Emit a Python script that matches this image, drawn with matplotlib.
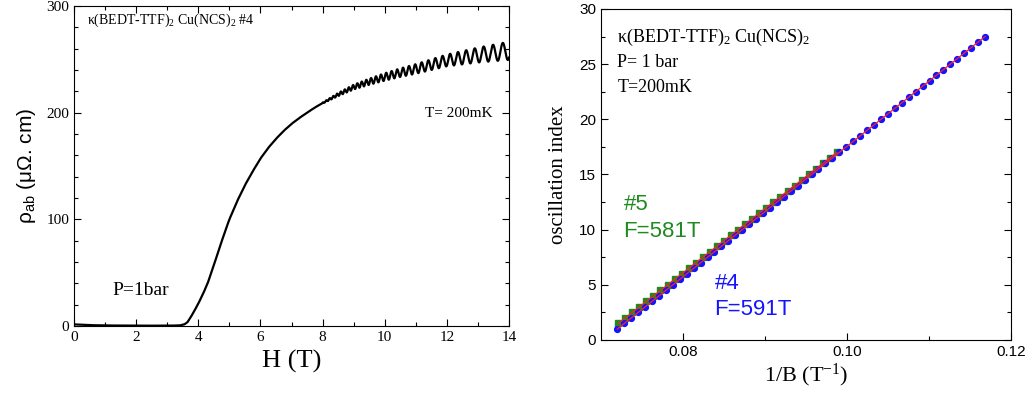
import numpy as np
import matplotlib
matplotlib.use("Agg")
import matplotlib.pyplot as plt
from matplotlib.ticker import MultipleLocator, FixedLocator

plt.rcParams['mathtext.fontset'] = 'custom'
plt.rcParams['mathtext.rm'] = 'Liberation Serif'
plt.rcParams['mathtext.it'] = 'Liberation Serif:italic'
plt.rcParams['mathtext.sf'] = 'Liberation Sans'

SERIF = 'Liberation Serif'
SANS = 'Liberation Sans'

# ---------------- Left panel data ----------------
bg_H = [0, 0.5, 1, 2, 3, 3.4, 3.55, 3.65, 3.75, 3.85, 4.0, 4.15, 4.3, 4.5, 4.7,
        4.9, 5.0, 5.25, 5.5, 5.75, 6.0, 6.25, 6.5, 6.75, 7.0, 7.25, 7.5, 7.75,
        8.0, 8.5, 9.0, 9.5, 10, 10.5, 11, 11.5, 12, 12.5, 13, 13.5, 14]
bg_rho = [1.5, 0.8, 0.5, 0.3, 0.3, 0.5, 1.5, 3.5, 8, 13, 21, 30, 40, 57, 75,
          92, 100, 117, 132, 145, 157, 167, 175.5, 183, 189.5, 195, 200, 204.8,
          209, 217, 224, 229, 233.5, 237.5, 241, 245, 249, 251.5, 254, 256, 258]

# peak-to-peak oscillation amplitude
amp_H = [7.8, 8.0, 8.5, 9.0, 10.0, 11.0, 12.0, 13.0, 14.0]
amp_pp = [0, 1.0, 3.0, 4.5, 7.0, 9.0, 11.0, 14.0, 17.0]

# field positions of oscillation extrema (first is a maximum, then alternating)
ext_H = [8.005, 8.059, 8.115, 8.171, 8.228, 8.285, 8.344, 8.403, 8.463, 8.524,
         8.586, 8.649, 8.713, 8.778, 8.843, 8.910, 8.978, 9.046, 9.116, 9.187,
         9.259, 9.332, 9.406, 9.482, 9.558, 9.636, 9.716, 9.796, 9.878, 9.961,
         10.046, 10.132, 10.220, 10.309, 10.400, 10.492, 10.586, 10.681, 10.779,
         10.878, 10.979, 11.082, 11.187, 11.294, 11.403, 11.514, 11.627, 11.742,
         11.860, 11.981, 12.103, 12.228, 12.356, 12.487, 12.620, 12.756, 12.896,
         13.038, 13.183, 13.332, 13.484, 13.639, 13.799, 13.962, 14.129]

# ---------------- Right panel data ----------------
n4 = [1, 1.5, 2, 2.5, 3, 3.5, 4, 4.5, 5, 5.5, 6, 6.5, 7, 7.5, 8, 8.5, 9, 9.5,
      10, 10.5, 11, 11.5, 12, 12.5, 13, 13.5, 14, 14.5, 15, 15.5, 16, 16.5, 17,
      17.5, 18, 18.5, 19, 19.5, 20, 20.5, 21, 21.5, 22, 22.5, 23, 23.5, 24,
      24.5, 25, 25.5, 26, 26.5, 27, 27.5]
invB4 = [0.07200, 0.07285, 0.07369, 0.07454, 0.07538, 0.07623, 0.07708, 0.07792,
         0.07877, 0.07961, 0.08046, 0.08131, 0.08215, 0.08300, 0.08384, 0.08469,
         0.08554, 0.08638, 0.08723, 0.08807, 0.08892, 0.08977, 0.09061, 0.09146,
         0.09230, 0.09315, 0.09400, 0.09484, 0.09569, 0.09653, 0.09738, 0.09823,
         0.09907, 0.09992, 0.10076, 0.10161, 0.10246, 0.10330, 0.10415, 0.10499,
         0.10584, 0.10669, 0.10753, 0.10838, 0.10922, 0.11007, 0.11091, 0.11176,
         0.11261, 0.11345, 0.11430, 0.11514, 0.11599, 0.11684]
n5 = [1.5, 2, 2.5, 3, 3.5, 4, 4.5, 5, 5.5, 6, 6.5, 7, 7.5, 8, 8.5, 9, 9.5, 10,
      10.5, 11, 11.5, 12, 12.5, 13, 13.5, 14, 14.5, 15, 15.5, 16, 16.5, 17]
invB5 = [0.07210, 0.07296, 0.07382, 0.07468, 0.07554, 0.07640, 0.07726, 0.07812,
         0.07899, 0.07985, 0.08071, 0.08157, 0.08243, 0.08329, 0.08415, 0.08501,
         0.08587, 0.08673, 0.08759, 0.08845, 0.08931, 0.09017, 0.09103, 0.09189,
         0.09275, 0.09361, 0.09447, 0.09533, 0.09619, 0.09705, 0.09791, 0.09877]

BLUE = '#1414ff'
GREEN = '#1f8a1f'
RED = '#ff2020'

# ---------------- build the dense left curve ----------------
Hf = np.linspace(0, 14, 9000)
rho = np.interp(Hf, bg_H, bg_rho)
half_amp = np.interp(Hf, amp_H, amp_pp) / 2.0
ext = np.array(ext_H)
dev = np.zeros_like(Hf)
idx = np.searchsorted(ext, Hf, side='right') - 1
ok = (idx >= 0) & (idx < len(ext) - 1)
i = idx[ok]
t = (Hf[ok] - ext[i]) / (ext[i + 1] - ext[i])
sign = np.where(i % 2 == 0, 1.0, -1.0)
dev[ok] = sign * np.cos(np.pi * t)
rho = rho + half_amp * dev

fig = plt.figure(figsize=(10.34, 3.94), dpi=100)

# ---------------- left axes ----------------
ax1 = fig.add_axes([0.0716, 0.1726, 0.4207, 0.8122])
ax1.plot(Hf, rho, color='black', lw=1.6)
ax1.set_xlim(0, 14)
ax1.set_ylim(0, 300)
ax1.xaxis.set_major_locator(MultipleLocator(2))
ax1.xaxis.set_minor_locator(MultipleLocator(1))
ax1.yaxis.set_major_locator(MultipleLocator(100))
ax1.yaxis.set_minor_locator(MultipleLocator(20))
ax1.tick_params(which='both', direction='in', top=True, right=True, labelsize=11)
ax1.tick_params(which='major', length=5, width=0.8)
ax1.tick_params(which='minor', length=3, width=0.8)
for lab in ax1.get_xticklabels() + ax1.get_yticklabels():
    lab.set_family(SERIF)
ax1.set_xlabel('H (T)', family=SERIF, fontsize=19, labelpad=4)
ax1.set_ylabel(r'$\mathsf{\rho_{ab}}$ (μΩ. cm)', family=SANS, fontsize=15, labelpad=6)
ax1.text(0.03, 0.955, r'κ(BEDT-TTF)$_2$ Cu(NCS)$_2$ #4', transform=ax1.transAxes,
         family=SERIF, fontsize=10, va='center', ha='left')
ax1.text(0.885, 0.665, 'T= 200mK', transform=ax1.transAxes, family=SERIF,
         fontsize=11, va='center', ha='center')
ax1.text(0.088, 0.11, 'P=1bar', transform=ax1.transAxes, family=SERIF,
         fontsize=14, va='center', ha='left')

# ---------------- right axes ----------------
ax2 = fig.add_axes([0.5812, 0.1371, 0.3965, 0.8401])
p4 = np.polyfit(invB4, n4, 1)
p5 = np.polyfit(invB5, n5, 1)
ax2.plot(invB5, n5, 's', color=GREEN, ms=4.2, mec=GREEN, zorder=3)
ax2.plot(invB4, n4, 'o', color=BLUE, ms=4.2, mec=BLUE, zorder=3)
x4 = np.array([invB4[0], invB4[-1]])
x5 = np.array([invB5[0], invB5[-1]])
ax2.plot(x4, np.polyval(p4, x4), color=RED, lw=0.9, zorder=4)
ax2.plot(x5, np.polyval(p5, x5), color=RED, lw=0.9, zorder=4)
ax2.set_xlim(0.07, 0.12)
ax2.set_ylim(0, 30)
ax2.xaxis.set_major_locator(FixedLocator([0.08, 0.10, 0.12]))
ax2.xaxis.set_minor_locator(FixedLocator([0.09, 0.11]))
ax2.xaxis.set_major_formatter(matplotlib.ticker.FormatStrFormatter('%.2f'))
ax2.yaxis.set_major_locator(MultipleLocator(5))
ax2.yaxis.set_minor_locator(MultipleLocator(2.5))
ax2.tick_params(which='both', direction='in', right=True, top=False, labelsize=11)
ax2.tick_params(which='major', length=5, width=0.8)
ax2.tick_params(which='minor', length=3, width=0.8)
for lab in ax2.get_xticklabels() + ax2.get_yticklabels():
    lab.set_family(SANS)
ax2.set_xlabel(r'1/B (T$^{\mathregular{-1}}$)', family=SERIF, fontsize=16, labelpad=2)
ax2.set_ylabel('oscillation index', family=SERIF, fontsize=15, labelpad=8)
ax2.text(0.04, 0.915, r'κ(BEDT-TTF)$_2$ Cu(NCS)$_2$', transform=ax2.transAxes,
         family=SERIF, fontsize=13, va='center', ha='left')
ax2.text(0.04, 0.838, 'P= 1 bar', transform=ax2.transAxes,
         family=SERIF, fontsize=13, va='center', ha='left')
ax2.text(0.04, 0.762, 'T=200mK', transform=ax2.transAxes,
         family=SERIF, fontsize=13, va='center', ha='left')
ax2.text(0.055, 0.369, '#5\nF=581T', transform=ax2.transAxes, family=SANS,
         fontsize=16, color=GREEN, va='center', ha='left', linespacing=1.35)
ax2.text(0.277, 0.131, '#4\nF=591T', transform=ax2.transAxes, family=SANS,
         fontsize=16, color=BLUE, va='center', ha='left', linespacing=1.35)

fig.savefig('out.png', dpi=100)
